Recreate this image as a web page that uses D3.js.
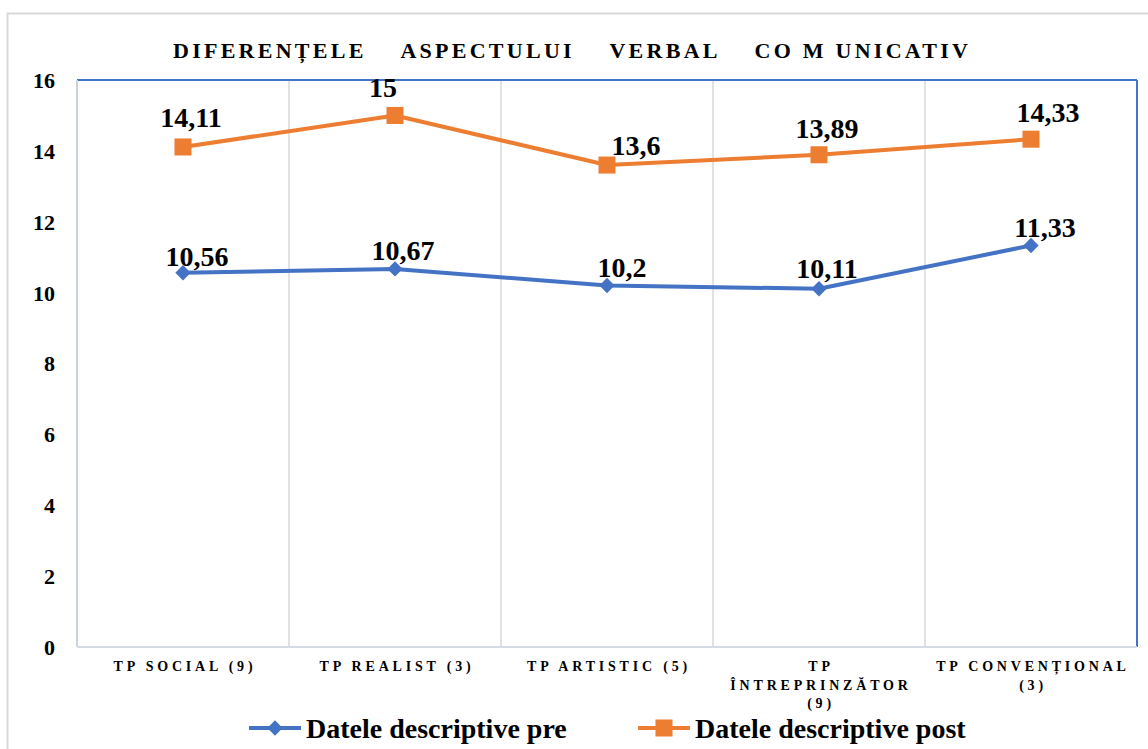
<!DOCTYPE html>
<html><head><meta charset="utf-8">
<script src="https://cdn.jsdelivr.net/npm/d3@7"></script>
<style>
html,body{margin:0;padding:0;background:#fff;}
svg{display:block;}
svg text{font-family:"Liberation Serif","Times New Roman",serif !important;font-weight:bold;}
</style></head>
<body>
<svg id="chart" width="1148" height="749"></svg>
<script>
// ---- data ----
const title = "DIFERENȚELE    ASPECTULUI    VERBAL    CO M UNICATIV";
const categories = ["TP SOCIAL (9)", "TP REALIST (3)", "TP ARTISTIC (5)", "TP ÎNTREPRINZĂTOR (9)", "TP CONVENȚIONAL (3)"];
const preValues = [10.56, 10.67, 10.2, 10.11, 11.33];
const postValues = [14.11, 15, 13.6, 13.89, 14.33];
const seriesNames = ["Datele descriptive pre", "Datele descriptive post"];
const yTicks = [0, 2, 4, 6, 8, 10, 12, 14, 16];

// ---- label placement (layout only) ----
const preLabelDx = [14, 8, 15, 8, 14];
const preLabelDy = [-7, -9, -9, -11, -8];
const postLabelDx = [8, -12, 29, 8, 17];
const postLabelDy = [-20, -18, -10, -17, -17];

const svg = d3.select("#chart");
const m = {left: 77, right: 1137, top: 80, bottom: 647};
const blue = "#4472C4", orange = "#ED7D31";

// outer chart border
svg.append("rect").attr("x", 7.5).attr("y", 13.5).attr("width", 1160).attr("height", 760)
  .attr("fill", "#fff").attr("stroke", "#d9d9d9").attr("stroke-width", 2);

const x = d3.scaleBand().domain(categories).range([m.left, m.right]).padding(0);
const y = d3.scaleLinear().domain([0, 16]).range([m.bottom, m.top]);
const cx = d => x(d) + x.bandwidth() / 2;

// vertical category gridlines
svg.append("g").selectAll("line").data(categories.slice(1)).join("line")
  .attr("x1", d => x(d)).attr("x2", d => x(d))
  .attr("y1", m.top).attr("y2", m.bottom)
  .attr("stroke", "#d9d9d9").attr("stroke-width", 1.5);

// plot border
svg.append("line").attr("x1", m.left).attr("x2", m.right).attr("y1", m.top).attr("y2", m.top)
  .attr("stroke", blue).attr("stroke-width", 2);
svg.append("line").attr("x1", m.right).attr("x2", m.right).attr("y1", m.top).attr("y2", m.bottom)
  .attr("stroke", blue).attr("stroke-width", 2);
svg.append("line").attr("x1", m.left).attr("x2", m.left).attr("y1", m.top).attr("y2", m.bottom)
  .attr("stroke", "#cdd2e0").attr("stroke-width", 2);
svg.append("line").attr("x1", m.left).attr("x2", m.right).attr("y1", m.bottom).attr("y2", m.bottom)
  .attr("stroke", "#d6dae6").attr("stroke-width", 2);

// y axis labels
const yAxis = d3.axisLeft(y).tickValues(yTicks).tickSize(0).tickPadding(0).tickFormat(d3.format("d"));
const ya = svg.append("g").attr("transform", `translate(${55},0)`).call(yAxis);
ya.attr("font-family", null).attr("font-size", null);
ya.select(".domain").remove();
ya.selectAll("text").style("font-size", "22px").attr("fill", "#000").attr("dy", "0.34em");

// x axis labels with wrapping
const xa = svg.append("g");
function wrapLines(text, maxW, measure) {
  const words = text.split(" ");
  const lines = [];
  let cur = "";
  words.forEach(w => {
    const t = cur ? cur + " " + w : w;
    if (cur && measure(t) > maxW) { lines.push(cur); cur = w; }
    else cur = t;
  });
  if (cur) lines.push(cur);
  return lines;
}
const probe = svg.append("text").style("font-size", "14px").attr("letter-spacing", 3.8);
const measure = s => { probe.text(s); return probe.node().getComputedTextLength(); };
categories.forEach(c => {
  const lines = wrapLines(c, 204, measure);
  const t = xa.append("text").attr("text-anchor", "middle")
    .style("font-size", "14px").attr("letter-spacing", 3.8).attr("fill", "#000");
  lines.forEach((ln, i) => {
    t.append("tspan").attr("x", cx(c) + 2).attr("y", 671 + i * 18.5).text(ln);
  });
});
probe.remove();

// lines
const line = d3.line().x((d, i) => cx(categories[i])).y(d => y(d));
svg.append("path").datum(preValues).attr("d", line).attr("fill", "none")
  .attr("stroke", blue).attr("stroke-width", 4).attr("stroke-linejoin", "round");
svg.append("path").datum(postValues).attr("d", line).attr("fill", "none")
  .attr("stroke", orange).attr("stroke-width", 4).attr("stroke-linejoin", "round");

// markers
const diamond = d3.symbol().type(d3.symbolDiamond2).size(150);
const square = d3.symbol().type(d3.symbolSquare).size(290);
svg.append("g").selectAll("path").data(preValues).join("path")
  .attr("d", diamond).attr("fill", blue)
  .attr("transform", (d, i) => `translate(${cx(categories[i])},${y(d)})`);
svg.append("g").selectAll("path").data(postValues).join("path")
  .attr("d", square).attr("fill", orange)
  .attr("transform", (d, i) => `translate(${cx(categories[i])},${y(d)})`);

// data labels
const fmt = v => String(v).replace(".", ",");
svg.append("g").selectAll("text").data(preValues).join("text")
  .attr("x", (d, i) => cx(categories[i]) + preLabelDx[i])
  .attr("y", (d, i) => y(d) + preLabelDy[i])
  .attr("text-anchor", "middle").style("font-size", "28px")
  .attr("fill", "#000").text(fmt);
svg.append("g").selectAll("text").data(postValues).join("text")
  .attr("x", (d, i) => cx(categories[i]) + postLabelDx[i])
  .attr("y", (d, i) => y(d) + postLabelDy[i])
  .attr("text-anchor", "middle").style("font-size", "28px")
  .attr("fill", "#000").text(fmt);

// title
svg.append("text").attr("x", 173).attr("y", 58)
  .style("font-size", "22px").attr("letter-spacing", 3).attr("fill", "#000")
  .attr("textLength", 798).attr("lengthAdjust", "spacing")
  .style("white-space", "pre").text(title);

// legend
const legend = [
  {name: seriesNames[0], color: blue, sym: diamond, x0: 249},
  {name: seriesNames[1], color: orange, sym: square, x0: 638}
];
const lg = svg.append("g");
legend.forEach(l => {
  lg.append("line").attr("x1", l.x0).attr("x2", l.x0 + 52).attr("y1", 728).attr("y2", 728)
    .attr("stroke", l.color).attr("stroke-width", 4);
  lg.append("path").attr("d", l.sym).attr("fill", l.color)
    .attr("transform", `translate(${l.x0 + 26},728)`);
  lg.append("text").attr("x", l.x0 + 57).attr("y", 738)
    .style("font-size", "28px").attr("fill", "#000").text(l.name);
});
</script>
</body></html>
